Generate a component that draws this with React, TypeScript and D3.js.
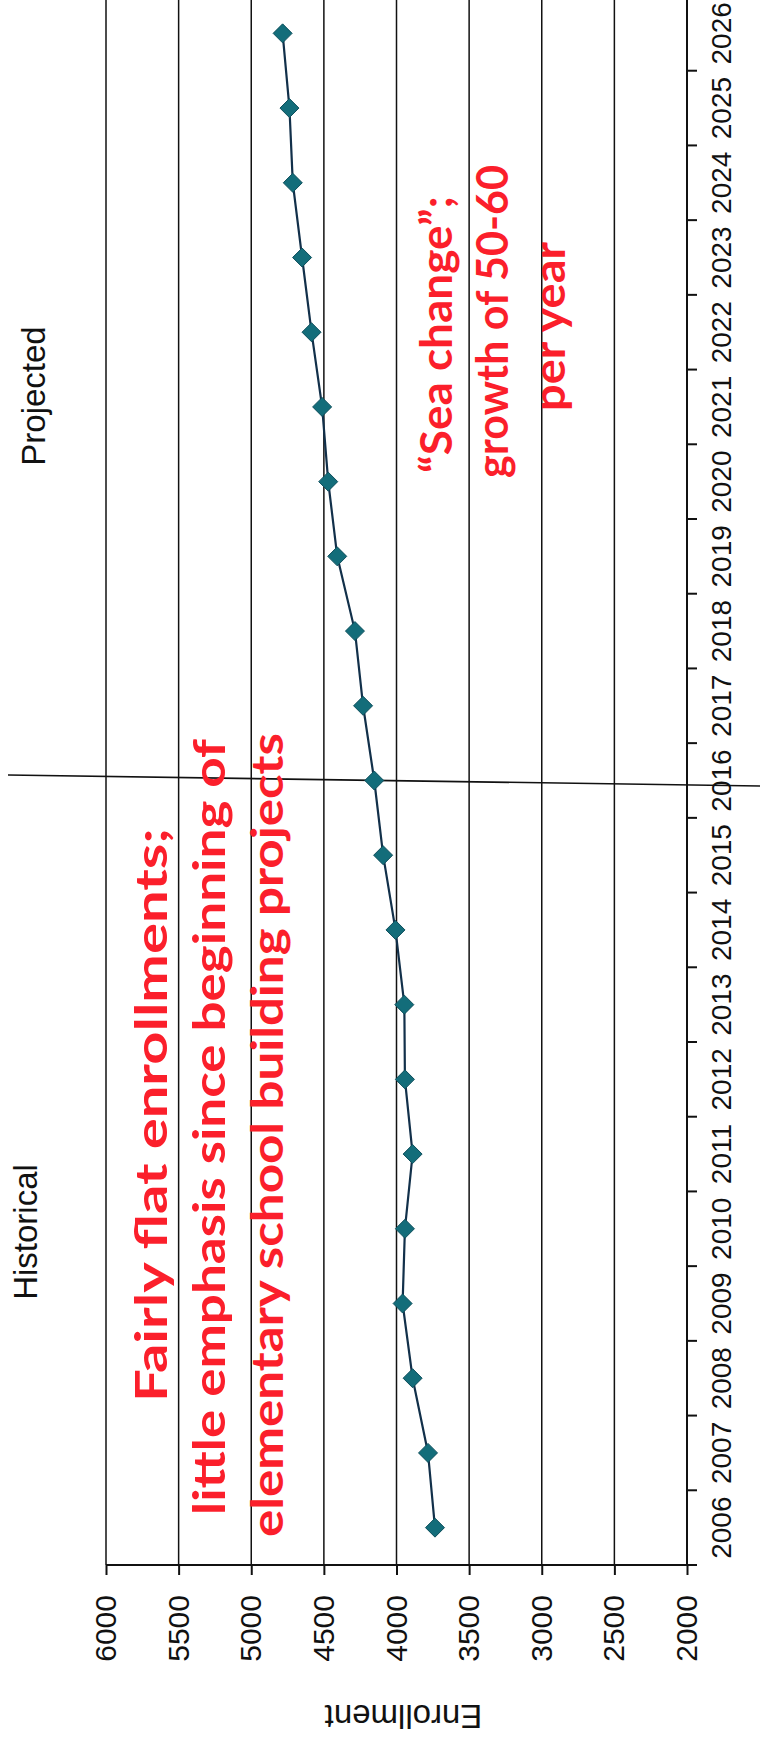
import { useEffect, useRef } from 'react'
import * as d3 from 'd3'

// 연도 (카테고리 축)
const years = [
  '2006', '2007', '2008', '2009', '2010', '2011', '2012', '2013', '2014', '2015',
  '2016', '2017', '2018', '2019', '2020', '2021', '2022', '2023', '2024', '2025', '2026'
]

// 재학생 수 (2006-2015 실적, 2016 이후 추정)
const enrollment = [
  3735, 3783, 3889, 3958, 3942, 3889, 3942, 3946, 4007, 4092,
  4153, 4230, 4286, 4408, 4470, 4512, 4585, 4650, 4714, 4737, 4784
]

const valueTicks = [2000, 2500, 3000, 3500, 4000, 4500, 5000, 5500, 6000]

const splitYear = '2016'
const historicalLabel = 'Historical'
const projectedLabel = 'Projected'
const axisTitle = 'Enrollment'

const historicalNote = [
  'Fairly flat enrollments;',
  'little emphasis since beginning of',
  'elementary school building projects'
]
const projectedNote = ['\u201cSea change\u201d;', 'growth of 50-60', 'per year']

const WIDTH = 760
const HEIGHT = 1740

export default function App() {
  const svgRef = useRef<SVGSVGElement>(null)

  useEffect(() => {
    if (!svgRef.current) return
    const svg = d3.select(svgRef.current)
    svg.selectAll('*').remove()

    // 원래 차트는 가로형 — 통째로 -90도 회전해서 그린다
    // 내부 좌표: 가로 = 연도 (0..HEIGHT), 세로 = 값 (0..WIDTH)
    const g = svg.append('g').attr('transform', `translate(0,${HEIGHT}) rotate(-90)`)

    const plotLeft = 175
    const plotRight = 1744
    const plotTop = 106
    const plotBottom = 687

    const x = d3.scaleBand<string>().domain(years).range([plotLeft, plotRight]).padding(0)
    const y = d3.scaleLinear().domain([2000, 6000]).range([plotBottom, plotTop])
    const bw = x.bandwidth()
    const cx = (yr: string) => (x(yr) ?? 0) + bw / 2

    const font = "'Liberation Sans', Arial, sans-serif"

    // 격자선
    g.append('g')
      .selectAll('line')
      .data(valueTicks)
      .enter()
      .append('line')
      .attr('x1', plotLeft)
      .attr('x2', plotRight)
      .attr('y1', d => y(d))
      .attr('y2', d => y(d))
      .attr('stroke', '#111')
      .attr('stroke-width', 1.5)

    // 값 축 (회전 후 아래쪽)
    const valueAxis = d3
      .axisLeft(y)
      .tickValues(valueTicks)
      .tickSize(10)
      .tickPadding(20)
      .tickFormat(d3.format('d'))
    const va = g.append('g').attr('transform', `translate(${plotLeft},0)`).call(valueAxis)
    va.select('.domain').remove()
    va.selectAll('.tick line').attr('stroke', '#111').attr('stroke-width', 2)
    va.selectAll('.tick text')
      .attr('fill', '#111')
      .style('font-family', font)
      .style('font-size', '30px')

    g.append('line')
      .attr('x1', plotLeft)
      .attr('x2', plotLeft)
      .attr('y1', plotTop)
      .attr('y2', plotBottom + 10)
      .attr('stroke', '#111')
      .attr('stroke-width', 2)

    // 연도 축 (회전 후 오른쪽)
    const yearAxis = d3.axisBottom(x).tickSize(0).tickPadding(24)
    const ya = g.append('g').attr('transform', `translate(0,${plotBottom})`).call(yearAxis)
    ya.select('.domain').remove()
    ya.selectAll('.tick text')
      .attr('fill', '#111')
      .style('font-family', font)
      .style('font-size', '28px')

    g.append('line')
      .attr('x1', plotLeft)
      .attr('x2', plotRight)
      .attr('y1', plotBottom)
      .attr('y2', plotBottom)
      .attr('stroke', '#111')
      .attr('stroke-width', 2)

    // 카테고리 경계 눈금
    const bounds = years.map(yr => x(yr) ?? 0).concat([plotRight])
    g.append('g')
      .selectAll('line')
      .data(bounds)
      .enter()
      .append('line')
      .attr('x1', d => d)
      .attr('x2', d => d)
      .attr('y1', plotBottom)
      .attr('y2', plotBottom + 10)
      .attr('stroke', '#111')
      .attr('stroke-width', 2)

    // 실적/추정 구분선 (스캔이라 약간 기울어짐)
    const sx = cx(splitYear)
    g.append('line')
      .attr('x1', sx + 5.5)
      .attr('x2', sx - 5.5)
      .attr('y1', 8)
      .attr('y2', WIDTH)
      .attr('stroke', '#111')
      .attr('stroke-width', 1.6)

    // 축 제목
    g.append('text')
      .attr('transform', `translate(35,${(plotTop + plotBottom) / 2 + 7}) rotate(-90)`)
      .attr('text-anchor', 'middle')
      .style('font-family', font)
      .style('font-size', '33px')
      .attr('fill', '#111')
      .text(axisTitle)

    // 구간 제목
    g.append('text')
      .attr('x', 508)
      .attr('y', 37)
      .attr('text-anchor', 'middle')
      .style('font-family', font)
      .style('font-size', '33px')
      .attr('fill', '#111')
      .text(historicalLabel)

    g.append('text')
      .attr('x', 1344)
      .attr('y', 45)
      .attr('text-anchor', 'middle')
      .style('font-family', font)
      .style('font-size', '33px')
      .attr('fill', '#111')
      .text(projectedLabel)

    // 꺾은선
    const line = d3
      .line<number>()
      .x((_, i) => cx(years[i]))
      .y(d => y(d))
    g.append('path')
      .datum(enrollment)
      .attr('d', line)
      .attr('fill', 'none')
      .attr('stroke', '#12304a')
      .attr('stroke-width', 2.2)

    // 마름모 마커
    g.append('g')
      .selectAll('path')
      .data(enrollment)
      .enter()
      .append('path')
      .attr('transform', (d, i) => `translate(${cx(years[i])},${y(d)})`)
      .attr('d', 'M0,-9.5L9.5,0L0,9.5L-9.5,0Z')
      .attr('fill', '#136d7a')
      .attr('stroke', '#0e4f5c')
      .attr('stroke-width', 1)

    // 빨간 주석 — 줄 시작 위치와 길이는 원본에서 잰 값
    const noteFont = "Lato, 'Open Sans', sans-serif"
    const red = '#fb1f2b'
    const drawNote = (lines: string[], starts: number[], lengths: number[], bases: number[]) => {
      g.append('g')
        .selectAll('text')
        .data(lines)
        .enter()
        .append('text')
        .attr('x', (_, i) => HEIGHT - starts[i])
        .attr('y', (_, i) => bases[i])
        .attr('textLength', (_, i) => lengths[i])
        .attr('lengthAdjust', 'spacingAndGlyphs')
        .style('font-family', noteFont)
        .style('font-weight', 'bold')
        .style('font-size', '44px')
        .attr('fill', red)
        .text(d => d)
    }
    drawNote(historicalNote, [1402, 1515, 1537], [574, 776, 804], [167, 225, 283])
    drawNote(projectedNote, [473, 478, 411], [277, 313, 169], [452, 508, 565])
  }, [])

  return (
    <svg
      ref={svgRef}
      width={WIDTH}
      height={HEIGHT}
      style={{ position: 'absolute', left: 0, top: 0, background: '#fff' }}
    />
  )
}
